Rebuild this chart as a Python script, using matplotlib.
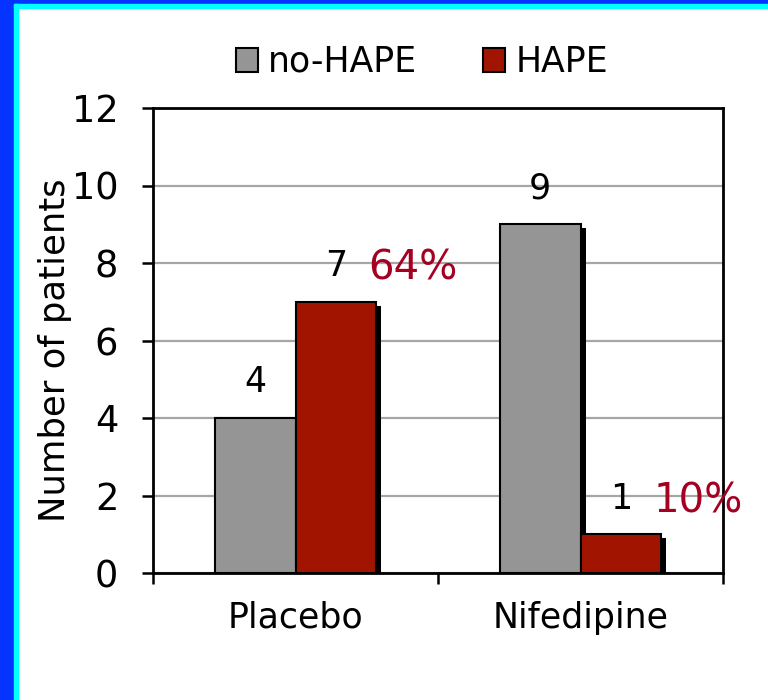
import numpy as np
import matplotlib.pyplot as plt
import matplotlib.patheffects as pe
from matplotlib.patches import Rectangle, Patch

plt.rcParams['font.family'] = ['DejaVu Sans']

groups = ["Placebo", "Nifedipine"]
no_hape = [4, 9]
hape = [7, 1]
hape_pct = ["64%", "10%"]

gray = "#959595"
red = "#A11500"
pct_red = "#A50021"

fig = plt.figure(figsize=(7.68, 7.0), dpi=100)

# blue / cyan frame on left and top
W, H = 768, 700
fig.patches.append(Rectangle((0, 0), 14 / W, 1, transform=fig.transFigure, color="#0533FF", zorder=0))
fig.patches.append(Rectangle((0, 1 - 4 / H), 1, 4 / H, transform=fig.transFigure, color="#0533FF", zorder=0))
fig.patches.append(Rectangle((14 / W, 0), 4 / W, 1 - 4 / H, transform=fig.transFigure, color="#00FFFF", zorder=0))
fig.patches.append(Rectangle((14 / W, 1 - 8 / H), 1 - 14 / W, 4 / H, transform=fig.transFigure, color="#00FFFF", zorder=0))

ax = fig.add_axes([153 / W, 1 - 573 / H, 570 / W, 465 / H])

x = np.arange(len(groups))
w = 0.284
shadow = [pe.SimplePatchShadow(offset=(3.6, -2.9), shadow_rgbFace="black", alpha=1.0), pe.Normal()]

b1 = ax.bar(x - w / 2, no_hape, w, color=gray, edgecolor="black", linewidth=1.5, zorder=3)
b2 = ax.bar(x + w / 2, hape, w, color=red, edgecolor="black", linewidth=1.5, zorder=3)
for b in list(b1) + list(b2):
    b.set_path_effects(shadow)

fs = 25
for i in range(len(groups)):
    ax.text(x[i] - w / 2, no_hape[i] + 0.48, str(no_hape[i]), ha="center", va="bottom", fontsize=fs)
    ax.text(x[i] + w / 2, hape[i] + 0.48, str(hape[i]), ha="center", va="bottom", fontsize=fs)
    ax.text(x[i] + w / 2 + 0.115, hape[i] + 0.33, hape_pct[i], ha="left", va="bottom",
            fontsize=29, color=pct_red, clip_on=False)

ax.set_xlim(-0.5, 1.5)
ax.set_ylim(0, 12)
ax.set_yticks(np.arange(0, 13, 2))
ax.yaxis.grid(True, color="#A6A6A6", linewidth=1.6, zorder=0)
ax.set_axisbelow(True)

ax.set_xticks(x)
ax.set_xticklabels(groups)
ax.set_xticks([-0.5, 0.5, 1.5], minor=True)
ax.tick_params(axis="x", which="major", length=0, pad=20, labelsize=fs)
ax.tick_params(axis="x", which="minor", direction="out", length=8, width=1.8)
ax.tick_params(axis="y", direction="out", length=8, width=1.8, pad=17, labelsize=26.5)

for s in ax.spines.values():
    s.set_linewidth(2)
    s.set_color("black")

fig.text(55 / W, 1 - 350 / H, "Number of patients", rotation=90, ha="center", va="center", fontsize=25.5)

handles = [Patch(facecolor=gray, edgecolor="black", linewidth=1.5, label="no-HAPE"),
           Patch(facecolor=red, edgecolor="black", linewidth=1.5, label="HAPE")]
fig.legend(handles=handles, loc="center", bbox_to_anchor=(422 / W, 1 - 62 / H), ncol=2,
           frameon=False, fontsize=fs, handlelength=0.62, handleheight=0.66,
           handletextpad=0.3, columnspacing=1.9, borderpad=0)

fig.savefig("out.png", dpi=100)
